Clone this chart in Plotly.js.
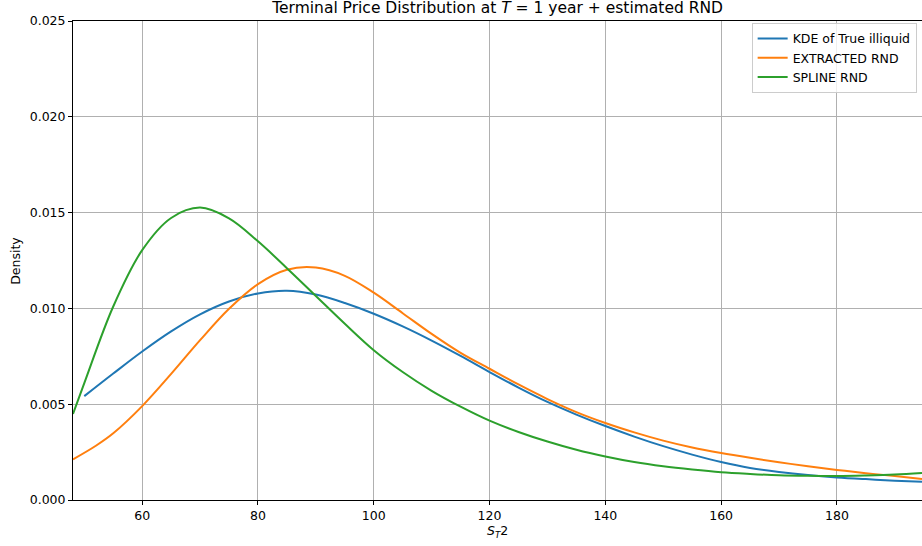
<!DOCTYPE html>
<html>
<head>
<meta charset="utf-8">
<script src="https://cdn.plot.ly/plotly-3.0.1.min.js"></script>
<style>
  html, body { margin: 0; padding: 0; background: #ffffff; }
  #chart { width: 922px; height: 546px; }
</style>
</head>
<body>
<div id="chart"></div>
<script>
// Kernel density estimate of simulated terminal prices
const kdeX = [50, 55, 60, 65, 70, 75, 80, 85, 90, 95, 100, 105, 110, 115, 120, 125, 130, 135, 140, 145, 150, 155, 160, 165, 170, 175, 180, 185, 190, 194.7];
const kdeY = [0.00542, 0.0066, 0.00775, 0.0088, 0.00969, 0.01036, 0.01078, 0.01092, 0.01072, 0.01028, 0.00972, 0.00906, 0.00832, 0.00752, 0.00668, 0.00587, 0.00512, 0.00446, 0.00386, 0.00331, 0.00281, 0.00237, 0.00198, 0.00167, 0.00146, 0.0013, 0.00118, 0.00109, 0.00101, 0.00095];

// Risk-neutral density extracted from option prices
const extractedX = [48.05, 52, 55, 60, 65, 70, 75, 80, 85, 90, 95, 100, 105, 110, 115, 120, 125, 130, 135, 140, 145, 150, 155, 160, 165, 170, 175, 180, 185, 190, 194.7];
const extractedY = [0.00212, 0.00283, 0.00348, 0.0049, 0.00658, 0.00834, 0.00998, 0.01127, 0.01202, 0.01213, 0.0117, 0.01082, 0.00975, 0.00867, 0.00768, 0.00685, 0.00603, 0.00527, 0.00459, 0.00402, 0.00353, 0.0031, 0.00274, 0.00245, 0.0022, 0.00197, 0.00176, 0.00157, 0.0014, 0.00125, 0.0011];

// Risk-neutral density from the smoothing-spline fit
const splineX = [48.05, 50, 55, 60, 65, 70, 75, 80, 85, 90, 95, 100, 105, 110, 115, 120, 125, 130, 135, 140, 145, 150, 155, 160, 165, 170, 175, 180, 185, 190, 194.7];
const splineY = [0.00449, 0.0061, 0.0101, 0.01304, 0.01472, 0.01526, 0.0147, 0.0135, 0.0121, 0.01065, 0.0092, 0.00782, 0.00668, 0.0057, 0.00487, 0.00414, 0.00355, 0.00305, 0.00262, 0.00227, 0.00198, 0.00176, 0.00159, 0.00145, 0.00136, 0.00129, 0.00126, 0.00125, 0.00128, 0.00133, 0.00141];

const seriesNames = ['KDE of True illiquid', 'EXTRACTED RND', 'SPLINE RND'];
const seriesColors = ['#1f77b4', '#ff7f0e', '#2ca02c'];

const xRange = [48.05, 194.7];
const yRange = [0, 0.025];

const font = 'DejaVu Sans, Liberation Sans, sans-serif';

function lineTrace(x, y, i) {
  return {
    x: x, y: y, type: 'scatter', mode: 'lines',
    name: seriesNames[i],
    line: { color: seriesColors[i], width: 2, shape: 'spline', smoothing: 1 },
    hoverinfo: 'x+y'
  };
}

const data = [
  lineTrace(kdeX, kdeY, 0),
  lineTrace(extractedX, extractedY, 1),
  lineTrace(splineX, splineY, 2)
];

const axisCommon = {
  showgrid: true,
  gridcolor: '#b0b0b0',
  gridwidth: 1,
  zeroline: false,
  showline: true,
  linecolor: '#000000',
  linewidth: 1,
  ticks: 'outside',
  ticklen: 4,
  tickwidth: 1,
  tickcolor: '#000000',
  tickfont: { family: font, size: 12.5, color: '#000000' }
};

const layout = {
  width: 922,
  height: 546,
  margin: { l: 73, r: 0, t: 21, b: 46 },
  paper_bgcolor: '#ffffff',
  plot_bgcolor: '#ffffff',
  font: { family: font, color: '#000000' },
  showlegend: true,
  title: {
    text: 'Terminal Price Distribution at <i>T</i> = 1 year + estimated RND',
    font: { family: font, size: 15.5, color: '#000000' },
    x: 0.5397, xref: 'container', xanchor: 'center',
    y: 0.986, yref: 'container', yanchor: 'middle'
  },
  xaxis: Object.assign({}, axisCommon, {
    range: xRange,
    tick0: 0, dtick: 20,
    mirror: true
  }),
  yaxis: Object.assign({}, axisCommon, {
    range: yRange,
    tick0: 0, dtick: 0.005,
    tickformat: '.3f'
  }),
  legend: {
    x: 0.9937, xanchor: 'right',
    y: 0.996, yanchor: 'top',
    bgcolor: 'rgba(255,255,255,0.8)',
    bordercolor: '#cccccc',
    borderwidth: 1,
    font: { family: font, size: 12.5, color: '#000000' },
    tracegroupgap: 0
  },
  annotations: [
    {
      text: '<i>S</i><sub><i>T</i></sub>2',
      xref: 'paper', yref: 'paper',
      x: 0.5, y: -0.066, xanchor: 'center', yanchor: 'middle',
      showarrow: false,
      font: { family: font, size: 12.5, color: '#000000' }
    },
    {
      text: 'Density',
      xref: 'paper', yref: 'paper',
      x: -0.068, y: 0.5, xanchor: 'center', yanchor: 'middle',
      textangle: -90,
      showarrow: false,
      font: { family: font, size: 12.5, color: '#000000' }
    }
  ]
};

Plotly.newPlot('chart', data, layout, { displayModeBar: false, staticPlot: true });
</script>
</body>
</html>
